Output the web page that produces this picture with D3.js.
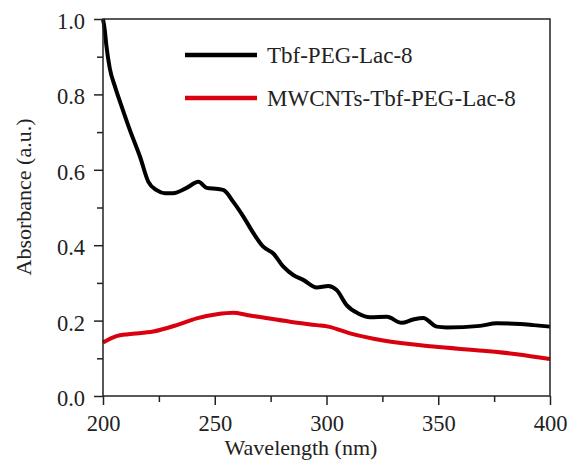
<!DOCTYPE html>
<html><head><meta charset="utf-8">
<script src="https://cdn.jsdelivr.net/npm/d3@7"></script>
<style>body{margin:0;background:#fff}svg{display:block}</style>
</head><body><svg id="c" width="570" height="462" font-family="Liberation Serif"></svg>
<script>
const xTicks=[200,250,300,350,400];
const yTicks=[0.0,0.2,0.4,0.6,0.8,1.0];
const seriesNames=["Tbf-PEG-Lac-8","MWCNTs-Tbf-PEG-Lac-8"];
const seriesColors=["#000000","#d9000f"];
const tbfX=[200,200.8,201.5,203,205.4,208.4,212,216.6,220.3,224,227.7,231.3,237.4,242.7,246.4,251.5,254,258.3,262.8,267.3,271.7,276.2,280.7,285.1,289.6,295.6,300.8,304.6,309,314.2,319.5,327,333.6,338.8,343.3,349.3,353.8,368.7,376.2,386.6,392.6,400];
const tbfY=[1.0,0.97,0.93,0.87,0.82,0.767,0.706,0.634,0.568,0.546,0.538,0.538,0.552,0.568,0.552,0.549,0.546,0.515,0.476,0.432,0.396,0.378,0.343,0.321,0.308,0.288,0.292,0.281,0.241,0.219,0.209,0.210,0.194,0.203,0.207,0.184,0.182,0.186,0.193,0.191,0.188,0.184];
const mwX=[200,206,211.3,222.5,233,241.9,250.9,258.3,264.3,271.7,283.7,295.6,300.8,310.5,325.4,347.8,370.2,385.1,400];
const mwY=[0.142,0.159,0.164,0.171,0.188,0.206,0.217,0.221,0.215,0.208,0.197,0.188,0.184,0.166,0.147,0.131,0.120,0.111,0.098];

const FONT="Liberation Serif";
const svg=d3.select("#c");
const L=103,R=550,T=19,B=396;
const x=d3.scaleLinear().domain([200,400]).range([L,R]);
const y=d3.scaleLinear().domain([0,1]).range([B,T]);

const line=d3.line().x(d=>x(d[0])).y(d=>y(d[1])).curve(d3.curveMonotoneX);
svg.append("path").datum(mwX.map((v,i)=>[v,mwY[i]])).attr("d",line).attr("fill","none").attr("stroke",seriesColors[1]).attr("stroke-width",4);
svg.append("path").datum(tbfX.map((v,i)=>[v,tbfY[i]])).attr("d",line).attr("fill","none").attr("stroke",seriesColors[0]).attr("stroke-width",4).attr("stroke-linejoin","round");

svg.append("rect").attr("x",L).attr("y",T).attr("width",R-L).attr("height",B-T).attr("fill","none").attr("stroke","#222").attr("stroke-width",1.5);

const xa=svg.append("g").attr("transform",`translate(0,${B})`).call(d3.axisBottom(x).tickValues(xTicks).tickFormat(d3.format("d")).tickSize(9).tickPadding(10));
const xm=svg.append("g").attr("transform",`translate(0,${B})`).call(d3.axisBottom(x).tickValues([225,275,325,375]).tickFormat("").tickSize(6));
const ya=svg.append("g").attr("transform",`translate(${L},0)`).call(d3.axisLeft(y).tickValues(yTicks).tickFormat(d3.format(".1f")).tickSize(9).tickPadding(9));
const ym=svg.append("g").attr("transform",`translate(${L},0)`).call(d3.axisLeft(y).tickValues([0.1,0.3,0.5,0.7,0.9]).tickFormat("").tickSize(6));
[xa,xm,ya,ym].forEach(g=>{g.attr("font-family",FONT).attr("font-size",22.5);g.select(".domain").remove();g.selectAll("line").attr("stroke","#222").attr("stroke-width",1.5);g.selectAll("text").attr("font-family",FONT).attr("font-size",22.5).attr("fill","#222");});
ya.selectAll("text").attr("dy","0.42em");

svg.append("text").attr("x",301).attr("y",455).attr("text-anchor","middle").attr("font-family",FONT).attr("font-size",22).attr("fill","#222").text("Wavelength (nm)");
svg.append("text").attr("transform","translate(31,197) rotate(-90)").attr("text-anchor","middle").attr("font-family",FONT).attr("font-size",22).attr("fill","#222").text("Absorbance (a.u.)");

const lg=svg.append("g");
seriesNames.forEach((n,i)=>{
  const yy=55+i*43;
  lg.append("line").attr("x1",185).attr("x2",257).attr("y1",yy).attr("y2",yy).attr("stroke",seriesColors[i]).attr("stroke-width",4.5);
  lg.append("text").attr("x",267).attr("y",yy+7.5).attr("font-family",FONT).attr("font-size",23).attr("fill","#222").text(n);
});
</script></body></html>
